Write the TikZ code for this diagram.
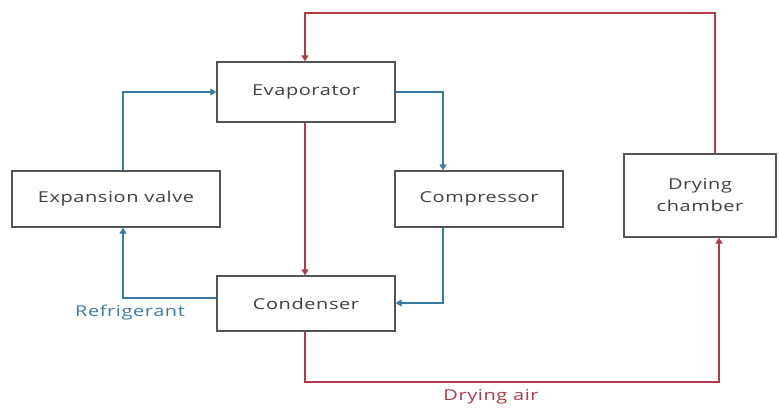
\documentclass[tikz,border=0pt]{standalone}
\usepackage{fontspec}
\setmainfont{Open Sans}[FakeStretch=1.33,LetterSpace=4]
\usetikzlibrary{arrows.meta}
\definecolor{redline}{HTML}{B03A48}
\definecolor{blueline}{HTML}{3A7BA5}
\definecolor{boxline}{HTML}{555555}
\definecolor{txt}{HTML}{404040}
\begin{document}
\begin{tikzpicture}[x=1pt,y=-1pt,
  box/.style={draw=boxline,line width=1.3pt,fill=white,text=txt,font=\fontsize{15}{22}\selectfont,align=center,inner sep=0pt},
  redarrow/.style={draw=redline,line width=1.3pt,-{Triangle[length=6pt,width=7pt]}},
  bluearrow/.style={draw=blueline,line width=1.3pt,-{Triangle[length=6pt,width=7pt]}},
  lbl/.style={font=\fontsize{15}{18}\selectfont}]
\useasboundingbox (0,0) rectangle (779,408);
\node[box,minimum width=178pt,minimum height=60pt] (evap) at (306,92) {Evaporator};
\node[box,minimum width=208pt,minimum height=56pt] (exp) at (116,199) {Expansion valve};
\node[box,minimum width=168pt,minimum height=56pt] (comp) at (479,199) {Compressor};
\node[box,minimum width=152pt,minimum height=83pt] (dry) at (700,195.5) {Drying\\chamber};
\node[box,minimum width=178pt,minimum height=55pt] (cond) at (306,303.5) {Condenser};
\coordinate (t1) at (715,13);
\coordinate (t2) at (305,13);
\coordinate (b1) at (305,382);
\coordinate (b2) at (719,382);
% red drying-air loop
\draw[redarrow] (dry.north -| t1) -- (t1) -- (t2) -- (evap.north -| t2);
\draw[redarrow] (evap.south -| t2) -- (cond.north -| t2);
\draw[redarrow] (cond.south -| b1) -- (b1) -- (b2) -- (dry.south -| b2);
% blue refrigerant loop
\coordinate (e1) at (123,92);
\coordinate (c1) at (443,92);
\coordinate (c2) at (443,303);
\coordinate (r1) at (123,298);
\draw[bluearrow] (exp.north -| e1) -- (e1) -- (evap.west |- e1);
\draw[bluearrow] (evap.east |- c1) -- (c1) -- (comp.north -| c1);
\draw[bluearrow] (comp.south -| c2) -- (c2) -- (cond.east |- c2);
\draw[bluearrow] (cond.west |- r1) -- (r1) -- (exp.south -| r1);
\node[lbl,text=blueline] (reflbl) at (130,313) {Refrigerant};
\node[lbl,text=redline] (airlbl) at (491,397) {Drying air};
\end{tikzpicture}
\end{document}
